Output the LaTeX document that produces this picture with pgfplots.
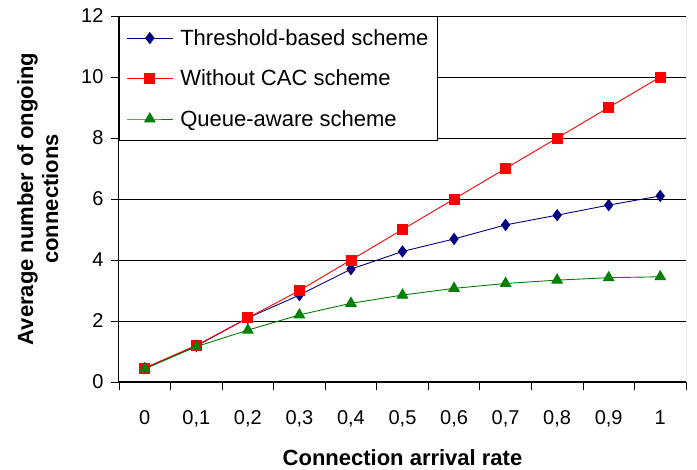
\documentclass[border=0pt]{standalone}
\usepackage{pgfplots}
\pgfplotsset{compat=1.18}
\usepackage{fontspec}
\setmainfont{Liberation Sans}
\definecolor{thrblue}{RGB}{0,0,128}
\definecolor{noCACred}{RGB}{255,0,0}
\definecolor{queuegreen}{RGB}{0,128,0}
\begin{document}
\begin{tikzpicture}
\begin{axis}[
  scale only axis=true,
  width=567pt,
  height=366pt,
  xmin=-0.5, xmax=10.5,
  ymin=0, ymax=12,
  axis x line*=bottom,
  axis y line*=left,
  axis line style={black, line width=1pt},
  tick align=outside,
  xtick={-0.5,0.5,...,10.5},
  xticklabels={},
  extra x ticks={0,1,2,3,4,5,6,7,8,9,10},
  extra x tick labels={0,{0,1},{0,2},{0,3},{0,4},{0,5},{0,6},{0,7},{0,8},{0,9},1},
  extra x tick style={major tick length=0pt, grid=none},
  x tick label style={yshift=-25pt},
  ytick={0,2,...,12},
  ymajorgrids=true,
  grid style={black, line width=0.9pt},
  major tick length=8pt,
  tick style={black, line width=0.8pt},
  ticklabel style={font=\fontsize{20}{24}\selectfont},
  y tick label style={xshift=-4pt},
  /pgf/number format/assume math mode=true,
  xlabel={\textbf{Connection arrival rate}},
  ylabel={\textbf{Average number of ongoing}\\\textbf{connections}},
  label style={font=\fontsize{22}{25}\selectfont},
  ylabel style={align=center, yshift=16pt},
  xlabel style={yshift=-8pt},
  legend style={
    at={(rel axis cs:0,1)}, anchor=north west,
    draw=black, line width=0.8pt, fill=white,
    font=\fontsize{22}{26}\selectfont,
    row sep=19pt, inner xsep=7pt, inner ysep=11pt,
    legend cell align=left,
    /tikz/every odd column/.style={column sep=5pt},
  },
  legend image code/.code={
    \draw[mark repeat=2, mark phase=2]
      plot coordinates {(0pt,0pt) (23pt,0pt) (46pt,0pt)};
  },
]
\addplot[thrblue, line width=0.9pt, mark=diamond*, mark size=5.5pt,
  mark options={fill=thrblue, draw=thrblue}] coordinates {
  (0,0.45) (1,1.18) (2,2.1) (3,2.85) (4,3.7) (5,4.28)
  (6,4.69) (7,5.15) (8,5.47) (9,5.8) (10,6.1)
};
\addlegendentry{Threshold-based scheme}
\addplot[noCACred, line width=0.9pt, mark=square*, mark size=5pt,
  mark options={fill=noCACred, draw=noCACred}] coordinates {
  (0,0.46) (1,1.2) (2,2.1) (3,3.0) (4,4.0) (5,5.0)
  (6,6.0) (7,7.0) (8,8.0) (9,9.0) (10,10.0)
};
\addlegendentry{Without CAC scheme}
\addplot[queuegreen, line width=0.9pt, mark=triangle*, mark size=6pt,
  mark options={fill=queuegreen, draw=queuegreen}] coordinates {
  (0,0.43) (1,1.16) (2,1.7) (3,2.2) (4,2.58) (5,2.85)
  (6,3.07) (7,3.23) (8,3.34) (9,3.42) (10,3.45)
};
\addlegendentry{Queue-aware scheme}
\draw[black!45, line width=0.8pt] (rel axis cs:1,0) -- (rel axis cs:1,1);
\end{axis}
\pgfresetboundingbox
\useasboundingbox ([shift={(-119pt,-88pt)}]current axis.south west)
  rectangle ([shift={(11pt,16pt)}]current axis.north east);
\end{tikzpicture}
\end{document}
